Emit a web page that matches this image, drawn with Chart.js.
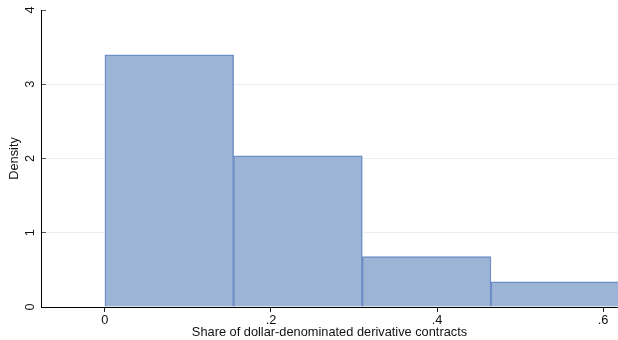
<!DOCTYPE html>
<html>
<head>
<meta charset="utf-8">
<script src="https://cdn.jsdelivr.net/npm/chart.js@4.4.1/dist/chart.umd.min.js"></script>
<style>
  html, body { margin: 0; padding: 0; background: #ffffff; }
  #wrap { width: 618px; height: 340px; }
</style>
</head>
<body>
<div id="wrap"><canvas id="hist" width="618" height="340"></canvas></div>
<script>
// Histogram bins (left edges) and their densities
const binStarts = [0, 0.155, 0.31, 0.465];
const binWidth = 0.155;
const densities = [3.395, 2.037, 0.679, 0.340];

// Axis ticks
const xTickValues = [0, 0.2, 0.4, 0.6];
const xTickLabels = ['0', '.2', '.4', '.6'];
const yTickValues = [0, 1, 2, 3, 4];
const yTickLabels = ['0', '1', '2', '3', '4'];

const xRange = [-0.077, 0.618];
const yRange = [0, 4];

const FONT = "'Liberation Sans', Arial, Helvetica, sans-serif";
const FONT_SIZE = 12.8;

const points = binStarts.map((s, i) => ({ x: s + binWidth / 2, y: densities[i] }));

new Chart(document.getElementById('hist'), {
  type: 'bar',
  data: {
    datasets: [{
      label: 'Density',
      data: points,
      backgroundColor: '#9cb5d7',
      borderColor: '#6d8fc5',
      borderWidth: 1.5,
      borderSkipped: 'bottom',
      barPercentage: 1,
      categoryPercentage: 1
    }]
  },
  options: {
    responsive: false,
    animation: false,
    layout: { padding: { top: 10, right: 0, left: 0, bottom: 0 } },
    plugins: {
      legend: { display: false },
      tooltip: { enabled: false }
    },
    scales: {
      x: {
        type: 'linear',
        min: xRange[0],
        max: xRange[1],
        offset: false,
        afterBuildTicks: (scale) => { scale.ticks = xTickValues.map(v => ({ value: v })); },
        afterFit: (scale) => {
          scale.height = 33;
          scale.paddingLeft = 0;
          scale.paddingRight = 0;
        },
        ticks: {
          autoSkip: false,
          maxRotation: 0,
          padding: 1,
          color: '#111',
          font: { family: FONT, size: FONT_SIZE },
          callback: (v) => { const i = xTickValues.indexOf(v); return i >= 0 ? xTickLabels[i] : ''; }
        },
        grid: {
          offset: false,
          drawOnChartArea: false,
          drawTicks: true,
          tickLength: 5,
          tickColor: '#222'
        },
        border: { display: true, color: '#000', width: 1 },
        title: {
          display: true,
          text: 'Share of dollar-denominated derivative contracts',
          color: '#111',
          font: { family: FONT, size: FONT_SIZE },
          padding: { top: 3, bottom: 0 }
        }
      },
      y: {
        type: 'linear',
        min: yRange[0],
        max: yRange[1],
        afterBuildTicks: (scale) => { scale.ticks = yTickValues.map(v => ({ value: v })); },
        afterFit: (scale) => {
          scale.width = 41;
          scale.paddingTop = 0;
          scale.paddingBottom = 0;
        },
        ticks: {
          autoSkip: false,
          minRotation: 90,
          maxRotation: 90,
          crossAlign: 'center',
          padding: 12,
          color: '#111',
          font: { family: FONT, size: FONT_SIZE },
          callback: (v) => { const i = yTickValues.indexOf(v); return i >= 0 ? yTickLabels[i] : ''; }
        },
        grid: {
          drawOnChartArea: true,
          drawTicks: true,
          tickLength: -5,
          tickColor: '#555',
          lineWidth: 1,
          color: (ctx) => (ctx.tick && ctx.tick.value > yRange[0] && ctx.tick.value < yRange[1]) ? '#eaf0f1' : 'rgba(0,0,0,0)'
        },
        border: { display: true, color: '#000', width: 1 },
        title: {
          display: true,
          text: 'Density',
          color: '#111',
          font: { family: FONT, size: FONT_SIZE },
          padding: { top: 7, bottom: 0 }
        }
      }
    }
  }
});
</script>
</body>
</html>
